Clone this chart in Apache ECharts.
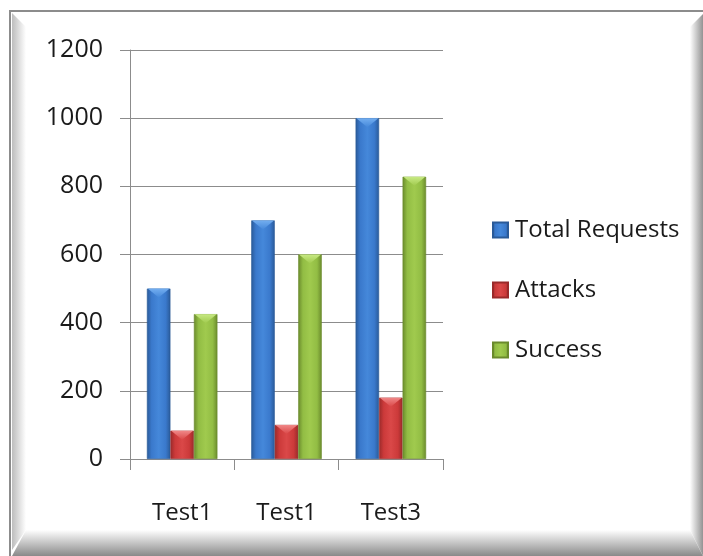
<!DOCTYPE html>
<html>
<head>
<meta charset="utf-8">
<script src="https://cdn.jsdelivr.net/npm/echarts@6/dist/echarts.min.js"></script>
<style>
html,body{margin:0;padding:0;background:#fff;}
#chart{width:703px;height:556px;}
</style>
</head>
<body>
<div id="chart"></div>
<script>
var categories = ['Test1', 'Test1', 'Test3'];
var seriesNames = ['Total Requests', 'Attacks', 'Success'];
var totalRequests = [500, 700, 1000];
var attacks = [83, 100, 180];
var success = [425, 600, 828];
var yTicks = [0, 200, 400, 600, 800, 1000, 1200];

var palette = [
  {dark: '#2a5a98', mid: '#3a79cc', light: '#4588da', top: '#73aef0'},
  {dark: '#9a2a2a', mid: '#cc3a3a', light: '#da4848', top: '#f08888'},
  {dark: '#6a8a2c', mid: '#92bd44', light: '#a0ca4e', top: '#c8ea84'}
];

function barGrad(p) {
  return new echarts.graphic.LinearGradient(0, 0, 1, 0, [
    {offset: 0, color: p.dark},
    {offset: 0.2, color: p.mid},
    {offset: 0.5, color: p.light},
    {offset: 0.8, color: p.mid},
    {offset: 1, color: p.dark}
  ]);
}

var values = [totalRequests, attacks, success];
var FONT = '"Open Sans", sans-serif';

var series = [];
values.forEach(function (vals, i) {
  series.push({
    name: seriesNames[i],
    type: 'bar',
    data: vals,
    barWidth: 23.5,
    barGap: '0%',
    itemStyle: {color: barGrad(palette[i]), borderColor: palette[i].dark, borderWidth: 0.6},
    emphasis: {disabled: true}
  });
});
values.forEach(function (vals, i) {
  series.push({
    name: '_cap' + i,
    type: 'pictorialBar',
    data: vals,
    barWidth: 23.5,
    barGap: '0%',
    symbol: 'path://M0,0 L10,0 L5,4.5 Z',
    symbolSize: [22, 9],
    symbolPosition: 'end',
    itemStyle: {color: new echarts.graphic.LinearGradient(0, 0, 0, 1, [
      {offset: 0, color: palette[i].top},
      {offset: 1, color: palette[i].light}
    ])},
    z: 3,
    silent: true
  });
});

var chart = echarts.init(document.getElementById('chart'), null, {renderer: 'canvas'});
chart.setOption({
  backgroundColor: '#ffffff',
  animation: false,
  textStyle: {fontFamily: FONT},
  graphic: [
    {type: 'rect', shape: {x: 10, y: 11, width: 700, height: 560}, style: {fill: '#ffffff', stroke: '#8c8c8c', lineWidth: 2}, z: -10},
    {type: 'polygon', shape: {points: [[12, 13], [26, 27], [26, 530], [12, 550]]},
      style: {fill: new echarts.graphic.LinearGradient(0, 0, 1, 0, [{offset: 0, color: '#bdbdbd'}, {offset: 1, color: '#ffffff'}])}, z: -9},
    {type: 'polygon', shape: {points: [[12, 556], [26, 530], [690, 530], [703, 556]]},
      style: {fill: new echarts.graphic.LinearGradient(0, 0, 0, 1, [{offset: 0, color: '#ffffff'}, {offset: 1, color: '#8a8a8a'}])}, z: -9},
    {type: 'polygon', shape: {points: [[690, 27], [703, 14], [703, 556], [690, 530]]},
      style: {fill: new echarts.graphic.LinearGradient(0, 0, 1, 0, [{offset: 0, color: '#ffffff'}, {offset: 1, color: '#939393'}])}, z: -9}
  ],
  grid: {left: 130, top: 50, width: 313, height: 409, containLabel: false},
  legend: {
    data: seriesNames.map(function (n, i) {
      return {name: n, itemStyle: {color: barGrad(palette[i])}};
    }),
    orient: 'vertical',
    left: 487,
    top: 210,
    itemWidth: 15,
    itemHeight: 15,
    itemGap: 30,
    icon: 'rect',
    textStyle: {fontFamily: FONT, fontSize: 24, color: '#1a1a1a', lineHeight: 30, padding: [0, 0, 0, 2]},
    selectedMode: false
  },
  xAxis: {
    type: 'category',
    data: categories,
    axisLine: {lineStyle: {color: '#8c8c8c', width: 1}},
    axisTick: {show: true, length: 11, inside: false, lineStyle: {color: '#8c8c8c'}},
    axisLabel: {fontFamily: FONT, fontSize: 24, color: '#1a1a1a', margin: 42}
  },
  yAxis: {
    type: 'value',
    min: yTicks[0],
    max: yTicks[yTicks.length - 1],
    interval: yTicks[1] - yTicks[0],
    axisLine: {show: true, lineStyle: {color: '#8c8c8c', width: 1}},
    axisTick: {show: true, length: 10, lineStyle: {color: '#8c8c8c'}},
    axisLabel: {fontFamily: FONT, fontSize: 25, color: '#1a1a1a', margin: 27,
      formatter: function (v) { return String(v); }},
    splitLine: {show: true, lineStyle: {color: '#8c8c8c', width: 1}}
  },
  series: series
});
</script>
</body>
</html>
